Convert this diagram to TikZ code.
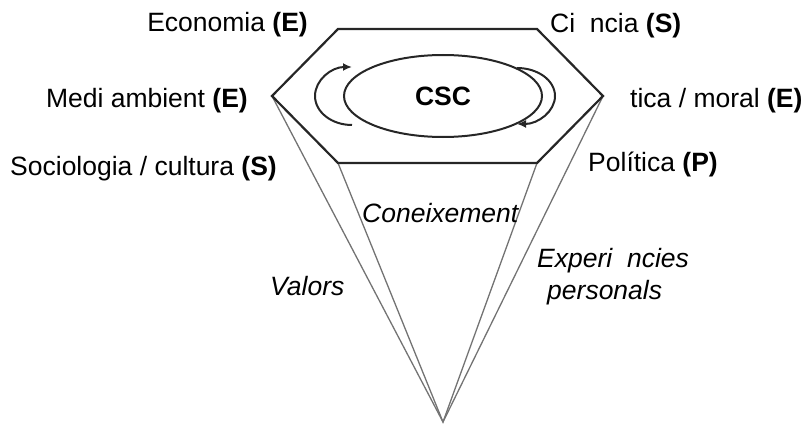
\documentclass[tikz,border=0pt]{standalone}
\usepackage{fontspec}
\setmainfont{Liberation Sans}
\usetikzlibrary{arrows.meta,shapes.geometric}
\begin{document}
\begin{tikzpicture}[x=1pt,y=-1pt,
  lbl/.style={inner sep=0pt, font=\fontsize{26.5}{31}\selectfont},
  ilbl/.style={inner sep=0pt, font=\fontsize{26.5}{31}\selectfont\itshape},
  hexedge/.style={draw=black!85, line width=2.2pt, line join=miter},
  pyr/.style={draw=black!55, line width=1.3pt},
  ring/.style={draw=black!85, line width=2pt},
  turn/.style={draw=black!85, line width=2pt, -{Latex[length=9pt,width=8pt]}}]
\useasboundingbox (0,0) rectangle (805,425);
\coordinate (tl) at (338,29);
\coordinate (tr) at (537,29);
\coordinate (r) at (603,96);
\coordinate (br) at (537,163);
\coordinate (bl) at (338,163);
\coordinate (l) at (272,96);
\coordinate (apex) at (443,422);
\draw[pyr] (l) -- (apex) -- (r);
\draw[pyr] (bl) -- (apex) -- (br);
\draw[hexedge] (tl) -- (tr) -- (r) -- (br) -- (bl) -- (l) -- cycle;
\node[ellipse, ring, minimum width=198pt, minimum height=82pt, inner sep=0pt,
      font=\fontsize{26.5}{31}\selectfont\bfseries] (csc) at (443,96) {CSC};
\coordinate (la) at (352,125);
\coordinate (ra) at (517,68);
\draw[turn] (la) arc[start angle=270, end angle=90, x radius=37pt, y radius=29pt];
\draw[turn] (ra) arc[start angle=90, end angle=-90, x radius=38pt, y radius=28pt];
\node[lbl, anchor=base east] (eco) at (308,32) {Economia \textbf{(E)}};
\node[lbl, anchor=base east] (med) at (248,107) {Medi ambient \textbf{(E)}};
\node[lbl, anchor=base east] (soc) at (277,175) {Sociologia / cultura \textbf{(S)}};
\node[lbl, anchor=base west] (cie) at (550,33) {Ci\hspace{0.556em}ncia \textbf{(S)}};
\node[lbl, anchor=base west] (eti) at (630,108) {tica / moral \textbf{(E)}};
\node[lbl, anchor=base west] (pol) at (588,171) {Política \textbf{(P)}};
\node[ilbl, anchor=base west] (con) at (362,222) {Coneixement};
\node[ilbl, anchor=base west] (val) at (270,295) {Valors};
\node[ilbl, anchor=base west] (exp) at (537,267) {Experi\hspace{0.556em}ncies};
\node[ilbl, anchor=base west] (per) at (547,299) {personals};
\end{tikzpicture}
\end{document}
